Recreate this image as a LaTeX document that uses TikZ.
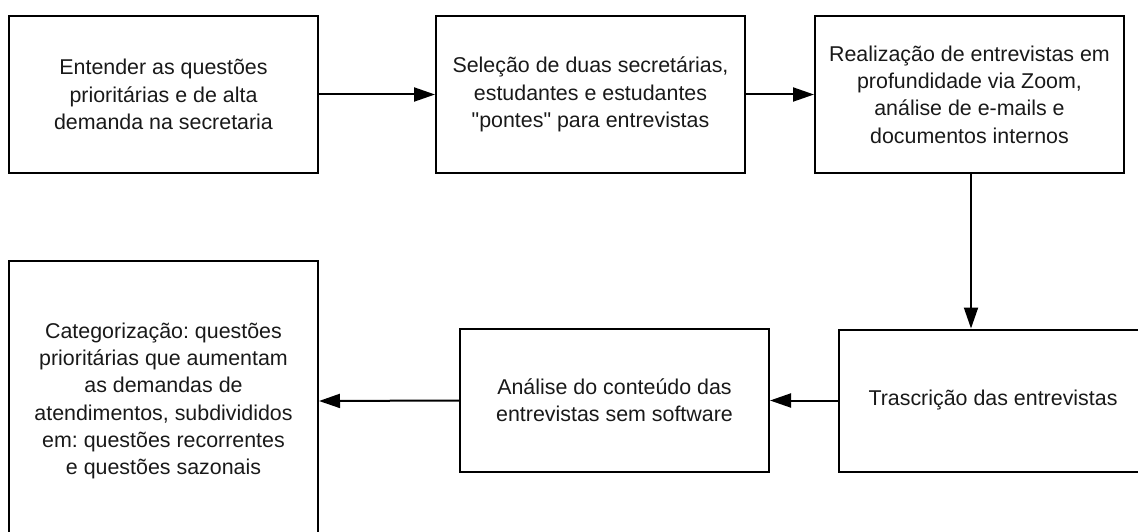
\documentclass[tikz,border=0pt]{standalone}
\usepackage{fontspec}
\setmainfont{Liberation Sans}
\usetikzlibrary{arrows.meta}
\newcommand\strq{\XeTeXglyph\XeTeXcharglyph34\relax}
\begin{document}
\begin{tikzpicture}[x=1pt,y=-1pt,
  box/.style={draw=black, line width=2pt, align=center, inner sep=0pt,
    minimum width=309pt, font=\fontsize{21.4}{27.3}\selectfont\frenchspacing, text=black!90},
  arr/.style={line width=2pt, -{Triangle[length=21pt,width=14pt]}}]
\useasboundingbox (0,0) rectangle (1138,532);
\clip (0,0) rectangle (1138,532);
\node[box, minimum height=157pt] (b1) at (163.5,94.5)
  {Entender as questões\\prioritárias e de alta\\demanda na secretaria};
\node[box, minimum height=157pt] (b2) at (590.5,94.5)
  {Seleção de duas secretárias,\\estudantes e estudantes\\\strq pontes\strq{} para entrevistas};
\node[box, minimum height=157pt] (b3) at (969.5,94.5)
  {Realização de entrevistas em\\profundidade via Zoom,\\análise de e-mails e\\documentos internos};
\node[box, minimum height=142pt, minimum width=308pt] (b4) at (993,400.5)
  {Trascrição das entrevistas};
\node[box, minimum height=143pt] (b5) at (614.5,400.5)
  {Análise do conteúdo das\\entrevistas sem software};
\node[box, minimum height=280pt] (b6) at (163.5,401)
  {Categorização: questões\\prioritárias que aumentam\\as demandas de\\atendimentos, subdivididos\\em: questões recorrentes\\e questões sazonais};
\coordinate (d1) at ([xshift=1.5pt]b3.south);
\draw[arr] (b1.east) -- (b2.west);
\draw[arr] (b2.east) -- (b3.west);
\draw[arr] (d1) -- (d1 |- b4.north);
\draw[arr] (b4.west) -- (b5.east);
\draw[arr] (b5.west) -- (b6.east);
\end{tikzpicture}
\end{document}
